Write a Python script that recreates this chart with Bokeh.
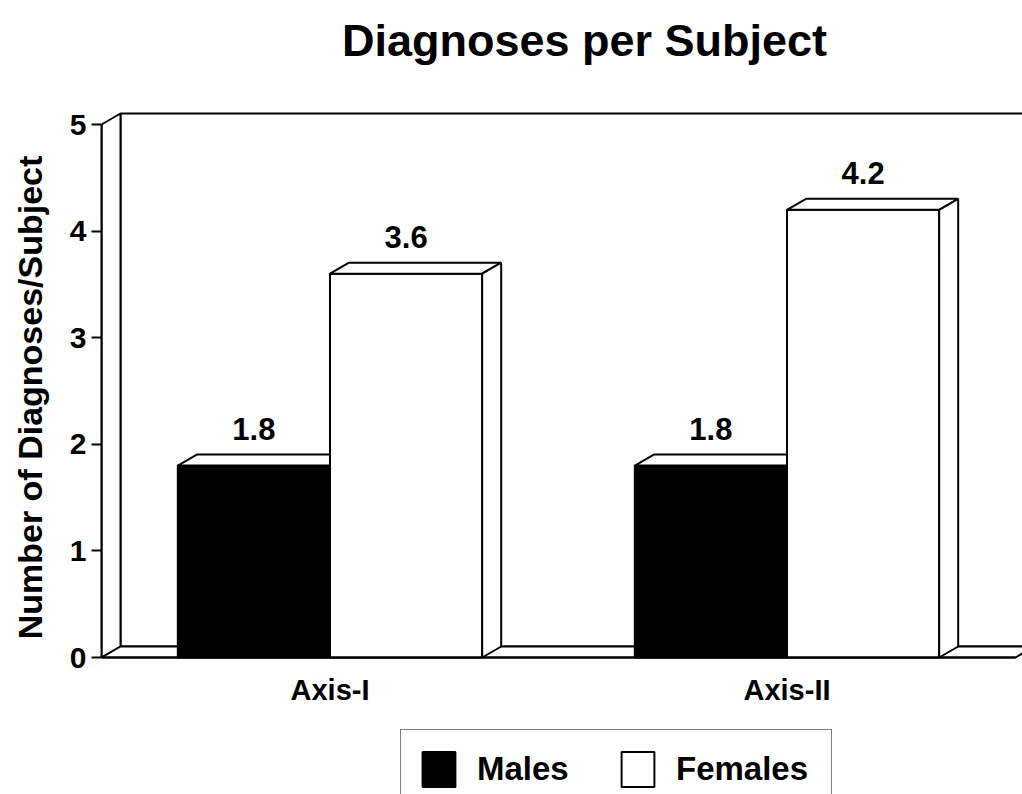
from bokeh.plotting import figure
from bokeh.models import Range1d, FixedTicker, Legend, LegendItem, Label
from bokeh.embed import file_html
from bokeh.resources import INLINE
from bokeh.core.properties import value

# ---- data ----
categories = ["Axis-I", "Axis-II"]
series_names = ["Males", "Females"]
males = [1.8, 1.8]
females = [3.6, 4.2]
y_ticks = [0, 1, 2, 3, 4, 5]
title_text = "Diagnoses per Subject"
y_title = "Number of Diagnoses/Subject"

# ---- layout constants ----
W, H = 1022, 794
ML = 101
FW = W - ML
PXX = 457.0             # pixels per category unit
PXY = 106.6             # pixels per y unit
X0 = 0.0
X1 = FW / PXX
Y1 = 657 / PXY
Y0 = -(H - 657) / PXY
DX = 19 / PXX           # depth offset (x, data units)
DY = 11 / PXY           # depth offset (y, data units)
BW = 0.333              # bar width
XEND = 2.0
YMAX = 5
LW = 2
FONT = "Liberation Sans"

p = figure(width=W, height=H, x_range=Range1d(X0, X1), y_range=Range1d(Y0, Y1),
           output_backend="svg", toolbar_location=None,
           min_border_left=ML, min_border_right=0, min_border_top=0, min_border_bottom=0)
p.title.visible = False
p.outline_line_color = None
p.grid.visible = False
p.background_fill_color = "white"
p.border_fill_color = "white"

wall = dict(fill_color="white", line_color="black", line_width=LW)
# back wall, left wall, floor
p.quad(left=[X0 + DX], right=[XEND + DX], bottom=[DY], top=[YMAX + DY], **wall)
p.patch([X0, X0 + DX, X0 + DX, X0], [0, DY, YMAX + DY, YMAX], **wall)
p.patch([X0, XEND, XEND + DX, X0 + DX], [0, 0, DY, DY], **wall)

centers = [i + 0.5 for i in range(len(categories))]


def bar3d(lefts, rights, vals, front_color):
    n = len(vals)
    front = p.quad(left=lefts, right=rights, bottom=[0] * n, top=vals,
                   fill_color=front_color, line_color="black", line_width=LW)
    p.patches([[l, r, r + DX, l + DX] for l, r in zip(lefts, rights)],
              [[v, v, v + DY, v + DY] for v in vals], **wall)
    p.patches([[r, r + DX, r + DX, r] for r in rights],
              [[0, DY, v + DY, v] for v in vals], **wall)
    p.text(x=[(l + r) / 2 for l, r in zip(lefts, rights)], y=vals,
           text=[f"{v:.1f}" for v in vals], text_align="center", text_baseline="alphabetic",
           y_offset=-37, text_font=value(FONT), text_font_style="bold",
           text_font_size="31px", text_color="black")
    return front


m_front = bar3d([c - BW for c in centers], centers, males, "black")
f_front = bar3d(centers, [c + BW for c in centers], females, "white")

# title
p.add_layout(Label(x=(584 - ML) / PXX, y=(657 - 40) / PXY, text=title_text, text_align="center",
                   text_baseline="alphabetic", text_font=FONT, text_font_style="bold",
                   text_font_size="45px", text_color="black"))

# y axis
yax = p.yaxis[0]
yax.ticker = FixedTicker(ticks=y_ticks)
yax.bounds = (0, YMAX)
yax.axis_line_width = LW
yax.axis_line_color = "black"
yax.major_tick_line_width = LW
yax.major_tick_out = 10
yax.major_tick_in = 0
yax.minor_tick_out = 0
yax.minor_tick_in = 0
yax.major_label_text_font = FONT
yax.major_label_text_font_size = "30px"
yax.major_label_text_font_style = "bold"
yax.major_label_text_color = "black"
yax.major_label_standoff = 5
yax.axis_label = y_title
yax.axis_label_text_font = FONT
yax.axis_label_text_font_size = "34px"
yax.axis_label_text_font_style = "bold"
yax.axis_label_text_color = "black"
yax.axis_label_standoff = 18

# x axis at y = 0
xax = p.xaxis[0]
xax.fixed_location = 0
xax.bounds = (0, XEND)
xax.ticker = FixedTicker(ticks=centers)
xax.major_label_overrides = {c: name for c, name in zip(centers, categories)}
xax.major_tick_out = 0
xax.major_tick_in = 0
xax.minor_tick_out = 0
xax.minor_tick_in = 0
xax.axis_line_width = LW
xax.axis_line_color = "black"
xax.major_label_text_font = FONT
xax.major_label_text_font_size = "29px"
xax.major_label_text_font_style = "bold"
xax.major_label_text_color = "black"
xax.major_label_standoff = 16

legend = Legend(items=[LegendItem(label=series_names[0], renderers=[m_front]),
                       LegendItem(label=series_names[1], renderers=[f_front])],
                orientation="horizontal", location=(299, -15),
                border_line_color="black", border_line_width=1.5,
                background_fill_color="white", background_fill_alpha=1.0,
                glyph_width=41, glyph_height=44, padding=17, spacing=2,
                label_standoff=18, label_width=138, margin=0,
                label_text_font=FONT, label_text_font_size="33px",
                label_text_font_style="bold", label_text_color="black")
p.add_layout(legend, "center")

open("out.html", "w").write(file_html(p, INLINE))
